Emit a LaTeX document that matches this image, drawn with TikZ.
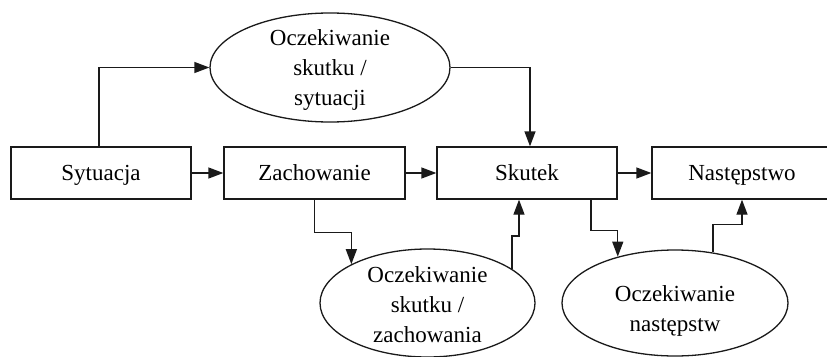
\documentclass[tikz,border=0pt]{standalone}
\usepackage{fontspec}
\setmainfont{Liberation Serif}
\usetikzlibrary{arrows.meta, positioning, shapes.geometric, calc}
\definecolor{cline}{HTML}{1A1A1A}
\tikzset{
  every picture/.style={x=1pt, y=-1pt, line width=1.3pt},
  box/.style={draw=cline, rectangle, minimum width=180pt, minimum height=52pt, text depth=0pt, font=\fontsize{23}{30}\selectfont},
  oval/.style={draw=cline, ellipse, align=center, inner xsep=0pt, inner ysep=-5pt, text height=#1, text depth=0pt, font=\fontsize{23}{30}\selectfont},
  arrow/.style={-{Triangle[length=15pt, width=11pt]}, draw=cline, line width=1.3pt},
}

\begin{document}
\begin{tikzpicture}
  \useasboundingbox (0,0) rectangle (827,356);
  \node[box] (syt) at (101,173) {Sytuacja};
  \node[box, minimum width=181pt] (zach) at (314.5,173) {Zachowanie};
  \node[box] (skut) at (527,173) {Skutek};
  \node[box] (nast) at (742,173) {Następstwo};
  \node[oval=75pt, minimum width=240pt, minimum height=109pt] (ocs) at (330,67.5) {Oczekiwanie\\skutku /\\sytuacji};
  \node[oval=78pt, minimum width=215pt, minimum height=108pt] (ocz) at (427.5,303) {Oczekiwanie\\skutku /\\zachowania};
  \node[oval=56pt, minimum width=226pt, minimum height=106pt] (ocn) at (675,303) {Oczekiwanie\\następstw};
  \draw[arrow] (syt) -- (zach);
  \draw[arrow] (zach) -- (skut);
  \draw[arrow] (skut) -- (nast);
  \draw[arrow] ([xshift=-2pt]syt.north) |- (ocs.west);
  \draw[arrow] (ocs.east) -| ([xshift=3pt]skut.north);
  \draw[arrow] (zach.south) -- ++(0,33) -| (ocz.153);
  \draw[arrow] (ocz.22) -- ++(0,-33) -| ([xshift=-8pt]skut.south);
  \draw[arrow] ([xshift=64pt]skut.south) -- ++(0,31) -| (ocn.141);
  \draw[arrow] (ocn.53) -- ++(0,-28) -| (nast.south);
\end{tikzpicture}
\end{document}
